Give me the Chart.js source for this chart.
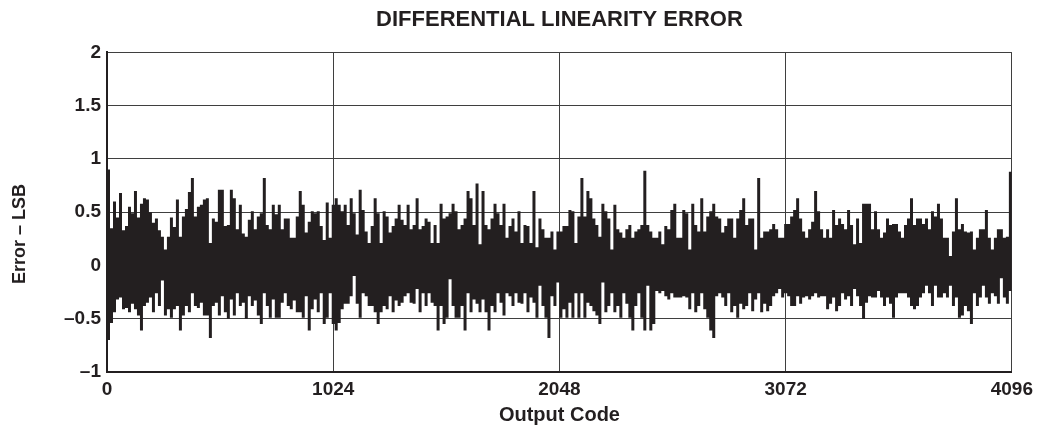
<!DOCTYPE html>
<html>
<head>
<meta charset="utf-8">
<script src="https://cdn.jsdelivr.net/npm/chart.js@4/dist/chart.umd.min.js"></script>
<style>
  html, body { margin: 0; padding: 0; background: #fff; }
  #wrap { width: 1039px; height: 431px; }
</style>
</head>
<body>
<div id="wrap"><canvas id="dnlChart" width="1039" height="431"></canvas></div>
<script>
// --- Data: DNL envelope per ~13.6-code bucket (LSB) ---
const fullScale = 4096;
const xTicks = [0, 1024, 2048, 3072, 4096];
const yTicks = [-1, -0.5, 0, 0.5, 1, 1.5, 2];

// upper edge of the trace in each bucket
const errHigh = [
    0.90, 0.35, 0.60, 0.45, 0.68, 0.33, 0.37, 0.55, 0.49, 0.70,
    0.45, 0.58, 0.63, 0.62, 0.50, 0.40, 0.44, 0.33, 0.27, 0.15,
    0.27, 0.45, 0.36, 0.62, 0.27, 0.46, 0.53, 0.69, 0.82, 0.46,
    0.55, 0.57, 0.62, 0.63, 0.21, 0.44, 0.41, 0.71, 0.71, 0.37,
    0.38, 0.71, 0.63, 0.34, 0.57, 0.30, 0.27, 0.43, 0.51, 0.34, 0.46,
    0.49, 0.82, 0.38, 0.34, 0.57, 0.48, 0.57, 0.34, 0.44, 0.44,
    0.26, 0.26, 0.46, 0.70, 0.57, 0.31, 0.41, 0.51, 0.49, 0.51,
    0.37, 0.24, 0.59, 0.26, 0.57, 0.63, 0.57, 0.51, 0.57, 0.38,
    0.63, 0.49, 0.29, 0.71, 0.52, 0.32, 0.21, 0.37, 0.63, 0.49,
    0.21, 0.51, 0.46, 0.31, 0.37, 0.44, 0.57, 0.43, 0.38, 0.57, 0.34,
    0.38, 0.63, 0.34, 0.37, 0.44, 0.41, 0.21, 0.38, 0.21, 0.58,
    0.44, 0.46, 0.49, 0.58, 0.51, 0.34, 0.38, 0.44, 0.70, 0.63,
    0.38, 0.77, 0.20, 0.70, 0.38, 0.34, 0.44, 0.58, 0.49, 0.38,
    0.58, 0.26, 0.37, 0.44, 0.32, 0.51, 0.21, 0.38, 0.37, 0.21,
    0.70, 0.17, 0.44, 0.34, 0.26, 0.26, 0.32, 0.15, 0.32, 0.32, 0.37,
    0.37, 0.52, 0.51, 0.21, 0.46, 0.82, 0.46, 0.70, 0.63, 0.44,
    0.38, 0.27, 0.58, 0.51, 0.44, 0.15, 0.57, 0.34, 0.31, 0.26,
    0.34, 0.38, 0.26, 0.32, 0.34, 0.38, 0.89, 0.38, 0.32, 0.26,
    0.26, 0.32, 0.20, 0.37, 0.34, 0.52, 0.58, 0.26, 0.26, 0.52,
    0.49, 0.15, 0.58, 0.38, 0.32, 0.63, 0.32, 0.46, 0.51, 0.58, 0.46,
    0.44, 0.31, 0.37, 0.44, 0.44, 0.26, 0.44, 0.52, 0.63, 0.38,
    0.44, 0.44, 0.15, 0.82, 0.26, 0.32, 0.32, 0.34, 0.39, 0.34,
    0.26, 0.26, 0.39, 0.39, 0.46, 0.52, 0.63, 0.44, 0.32, 0.26,
    0.34, 0.41, 0.70, 0.51, 0.34, 0.26, 0.34, 0.26, 0.52, 0.38,
    0.44, 0.39, 0.34, 0.52, 0.38, 0.20, 0.44, 0.21, 0.58, 0.58,
    0.58, 0.34,
    0.51, 0.34, 0.26, 0.31, 0.44, 0.38, 0.39, 0.39, 0.32, 0.26,
    0.38, 0.44, 0.63, 0.38, 0.44, 0.44, 0.39, 0.44, 0.34, 0.51,
    0.46, 0.58, 0.44, 0.26, 0.26, 0.09, 0.32, 0.63, 0.34, 0.39,
    0.32, 0.31, 0.32, 0.15, 0.26, 0.34, 0.34, 0.52, 0.26, 0.15,
    0.26, 0.34, 0.34, 0.26, 0.27, 0.88
];

// lower edge of the trace in each bucket
const errLow = [
    -0.70, -0.54, -0.44, -0.32, -0.30, -0.41, -0.40, -0.44, -0.36, -0.41,
    -0.47, -0.61, -0.38, -0.35, -0.30, -0.44, -0.26, -0.38, -0.14, -0.47,
    -0.41, -0.49, -0.41, -0.38, -0.61, -0.47, -0.38, -0.44, -0.26, -0.38,
    -0.40, -0.35, -0.47, -0.47, -0.68, -0.38, -0.35, -0.47, -0.29, -0.44,
    -0.50, -0.32, -0.47, -0.26, -0.38, -0.35, -0.50, -0.29, -0.38, -0.33, -0.47,
    -0.55, -0.26, -0.38, -0.49, -0.32, -0.49, -0.49, -0.35, -0.26, -0.38,
    -0.41, -0.33, -0.44, -0.44, -0.49, -0.29, -0.61, -0.41, -0.32, -0.44,
    -0.26, -0.55, -0.49, -0.26, -0.55, -0.61, -0.54, -0.41, -0.36, -0.36,
    -0.29, -0.10, -0.36, -0.49, -0.26, -0.29, -0.38, -0.38, -0.44, -0.55,
    -0.44, -0.38, -0.41, -0.29, -0.44, -0.33, -0.38, -0.35, -0.29, -0.26, -0.35,
    -0.36, -0.22, -0.44, -0.26, -0.38, -0.26, -0.35, -0.38, -0.61, -0.38,
    -0.55, -0.49, -0.13, -0.38, -0.49, -0.49, -0.38, -0.61, -0.26, -0.44,
    -0.32, -0.36, -0.44, -0.32, -0.44, -0.61, -0.38, -0.44, -0.26, -0.35,
    -0.47, -0.26, -0.29, -0.38, -0.26, -0.35, -0.36, -0.26, -0.44, -0.30,
    -0.35, -0.49, -0.19, -0.38, -0.49, -0.68, -0.29, -0.38, -0.16, -0.49, -0.41,
    -0.49, -0.35, -0.49, -0.26, -0.49, -0.26, -0.49, -0.35, -0.38, -0.43,
    -0.47, -0.55, -0.16, -0.44, -0.38, -0.26, -0.44, -0.38, -0.49, -0.26,
    -0.36, -0.49, -0.61, -0.38, -0.26, -0.49, -0.61, -0.19, -0.61, -0.55,
    -0.24, -0.26, -0.24, -0.29, -0.32, -0.26, -0.30, -0.30, -0.30, -0.29,
    -0.30, -0.41, -0.26, -0.44, -0.38, -0.26, -0.41, -0.49, -0.61, -0.68, -0.29,
    -0.26, -0.30, -0.38, -0.26, -0.44, -0.38, -0.49, -0.36, -0.41, -0.38,
    -0.26, -0.43, -0.32, -0.26, -0.44, -0.36, -0.43, -0.38, -0.29, -0.26,
    -0.22, -0.30, -0.26, -0.29, -0.38, -0.38, -0.29, -0.36, -0.30, -0.29,
    -0.32, -0.29, -0.26, -0.30, -0.29, -0.29, -0.41, -0.36, -0.30, -0.43,
    -0.38, -0.26, -0.32, -0.29, -0.38, -0.22, -0.29, -0.38, -0.50, -0.35,
    -0.29, -0.30,
    -0.30, -0.24, -0.30, -0.38, -0.30, -0.36, -0.49, -0.30, -0.26, -0.26,
    -0.26, -0.30, -0.38, -0.41, -0.38, -0.30, -0.26, -0.19, -0.26, -0.38,
    -0.19, -0.30, -0.30, -0.26, -0.30, -0.19, -0.38, -0.30, -0.49, -0.47,
    -0.38, -0.43, -0.55, -0.26, -0.38, -0.30, -0.19, -0.30, -0.36, -0.26,
    -0.29, -0.36, -0.12, -0.30, -0.36, -0.24
];

const ink = '#231f20';
const gridGrey = '#3f3f3f';
const fontFam = '"Liberation Sans", Arial, Helvetica, sans-serif';

document.addEventListener("DOMContentLoaded", () => {
    // bucket i starts at code i*step; extra end point closes the last step
    const step = fullScale / errHigh.length;
    function toSteps(vals) {
        const pts = vals.map((v, i) => ({ x: i * step, y: v }));
        pts.push({ x: fullScale, y: vals[vals.length - 1] });
        return pts;
    }

    function fmtTick(v) {
        if (v < 0) return '\u2013' + Math.abs(v);
        return String(v);
    }

    // y axis title sits a bit below the axis centre in the original
    const yTitlePlugin = {
        id: 'yTitle',
        afterDraw(chart) {
            const ctx = chart.ctx;
            ctx.save();
            ctx.translate(20, 234);
            ctx.rotate(-Math.PI / 2);
            ctx.font = 'bold 18px ' + fontFam;
            ctx.fillStyle = ink;
            ctx.textAlign = 'center';
            ctx.textBaseline = 'middle';
            ctx.fillText('Error \u2013 LSB', 0, 0);
            ctx.restore();
        }
    };

    const ctx = document.getElementById('dnlChart').getContext('2d');
    new Chart(ctx, {
        type: 'line',
        data: {
            datasets: [{
                label: 'DNL high',
                data: toSteps(errHigh),
                stepped: true,
                fill: '+1',
                backgroundColor: ink,
                borderColor: 'rgba(0,0,0,0)',
                borderWidth: 0,
                pointRadius: 0
            }, {
                label: 'DNL low',
                data: toSteps(errLow),
                stepped: true,
                fill: false,
                backgroundColor: ink,
                borderColor: 'rgba(0,0,0,0)',
                borderWidth: 0,
                pointRadius: 0
            }]
        },
        options: {
            responsive: false,
            animation: false,
            layout: { padding: { left: 0, right: 27, top: 0, bottom: 0 } },
            plugins: {
                legend: { display: false },
                tooltip: { enabled: false },
                title: {
                    display: true,
                    text: 'DIFFERENTIAL LINEARITY ERROR',
                    color: ink,
                    fullSize: false,
                    font: { family: fontFam, size: 22, weight: 'bold' },
                    padding: { top: 7, bottom: 19 }
                }
            },
            scales: {
                x: {
                    type: 'linear',
                    min: 0,
                    max: fullScale,
                    afterBuildTicks: (scale) => { scale.ticks = xTicks.map(v => ({ value: v })); },
                    afterFit: (scale) => { scale.height = 59; },
                    grid: { color: gridGrey, lineWidth: 1, drawTicks: false },
                    border: { display: true, color: ink, width: 2 },
                    ticks: {
                        color: ink,
                        padding: 6,
                        maxRotation: 0,
                        autoSkip: false,
                        callback: (v) => String(v),
                        font: { family: fontFam, size: 19, weight: 'bold' }
                    },
                    title: {
                        display: true,
                        text: 'Output Code',
                        color: ink,
                        padding: { top: 4, bottom: 4 },
                        font: { family: fontFam, size: 20, weight: 'bold' }
                    }
                },
                y: {
                    min: -1,
                    max: 2,
                    afterBuildTicks: (scale) => { scale.ticks = yTicks.map(v => ({ value: v })); },
                    afterFit: (scale) => { scale.width = 107; },
                    grid: { color: gridGrey, lineWidth: 1, drawTicks: false },
                    border: { display: true, color: ink, width: 2 },
                    ticks: {
                        color: ink,
                        padding: 6,
                        callback: fmtTick,
                        font: { family: fontFam, size: 19, weight: 'bold' }
                    }
                }
            }
        },
        plugins: [yTitlePlugin]
    });
});
</script>
</body>
</html>
